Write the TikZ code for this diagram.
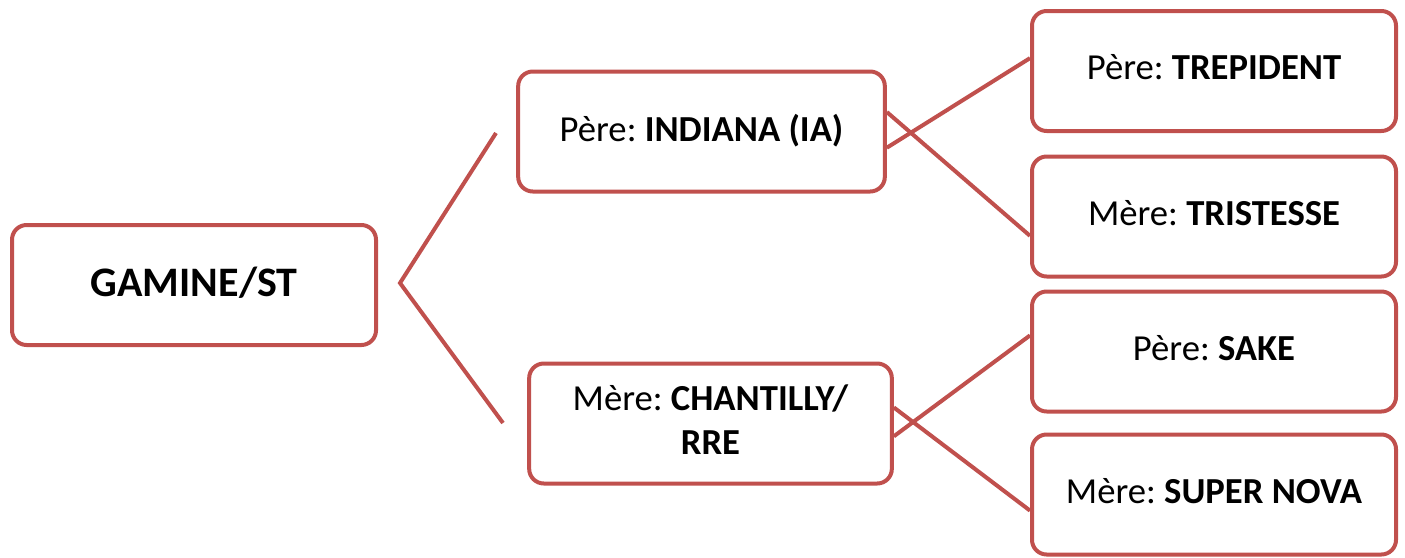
\documentclass[tikz,border=0pt]{standalone}
\usepackage{fontspec}
\setmainfont{Carlito}
\usepackage{tikz}
\usetikzlibrary{shapes}
\definecolor{brique}{HTML}{C0504D}
\frenchspacing

\begin{document}
\begin{tikzpicture}[x=0.75pt,y=-0.75pt]
		\tikzstyle{cheval}=[draw=brique,line width=3pt,rectangle,rounded corners=11pt,minimum width=273pt,minimum height=90pt,align=center,text depth=0.55em,font=\fontsize{27.5}{33}\selectfont]
		\tikzstyle{lien}=[draw=brique,line width=3pt]
		\useasboundingbox (0,0) rectangle (1405,557);
		\node[cheval,font=\fontsize{31.5}{38}\selectfont\bfseries] (G) at (194,285){GAMINE/ST};
		\node[cheval,minimum width=275pt] (P) at (701.5,131.5){P\`ere: \textbf{INDIANA (IA)}};
		\node[cheval,minimum width=272pt] (M) at (710.5,423.5){M\`ere: \textbf{CHANTILLY/}\\ \textbf{RRE}};
		\node[cheval] (PP) at (1214,71){P\`ere: \textbf{TREPIDENT}};
		\node[cheval] (PM) at (1214,216.5){M\`ere: \textbf{TRISTESSE}};
		\node[cheval] (MP) at (1214,351.5){P\`ere: \textbf{SAKE}};
		\node[cheval] (MM) at (1214,494.5){M\`ere: \textbf{SUPER NOVA}};
		\coordinate (F) at (400,283);
		\coordinate (FP) at (496,133);
		\coordinate (FM) at (503,423);
		
		\draw[lien] (FP)--(F)--(FM);
		\draw[lien] (P.-5)--(PP.176);
		\draw[lien] (P.6)--(PM.186);
		\draw[lien] (M.-4.5)--(MP.175.5);
		\draw[lien] (M.5.5)--(MM.185.7);
		
	\end{tikzpicture}
\end{document}
